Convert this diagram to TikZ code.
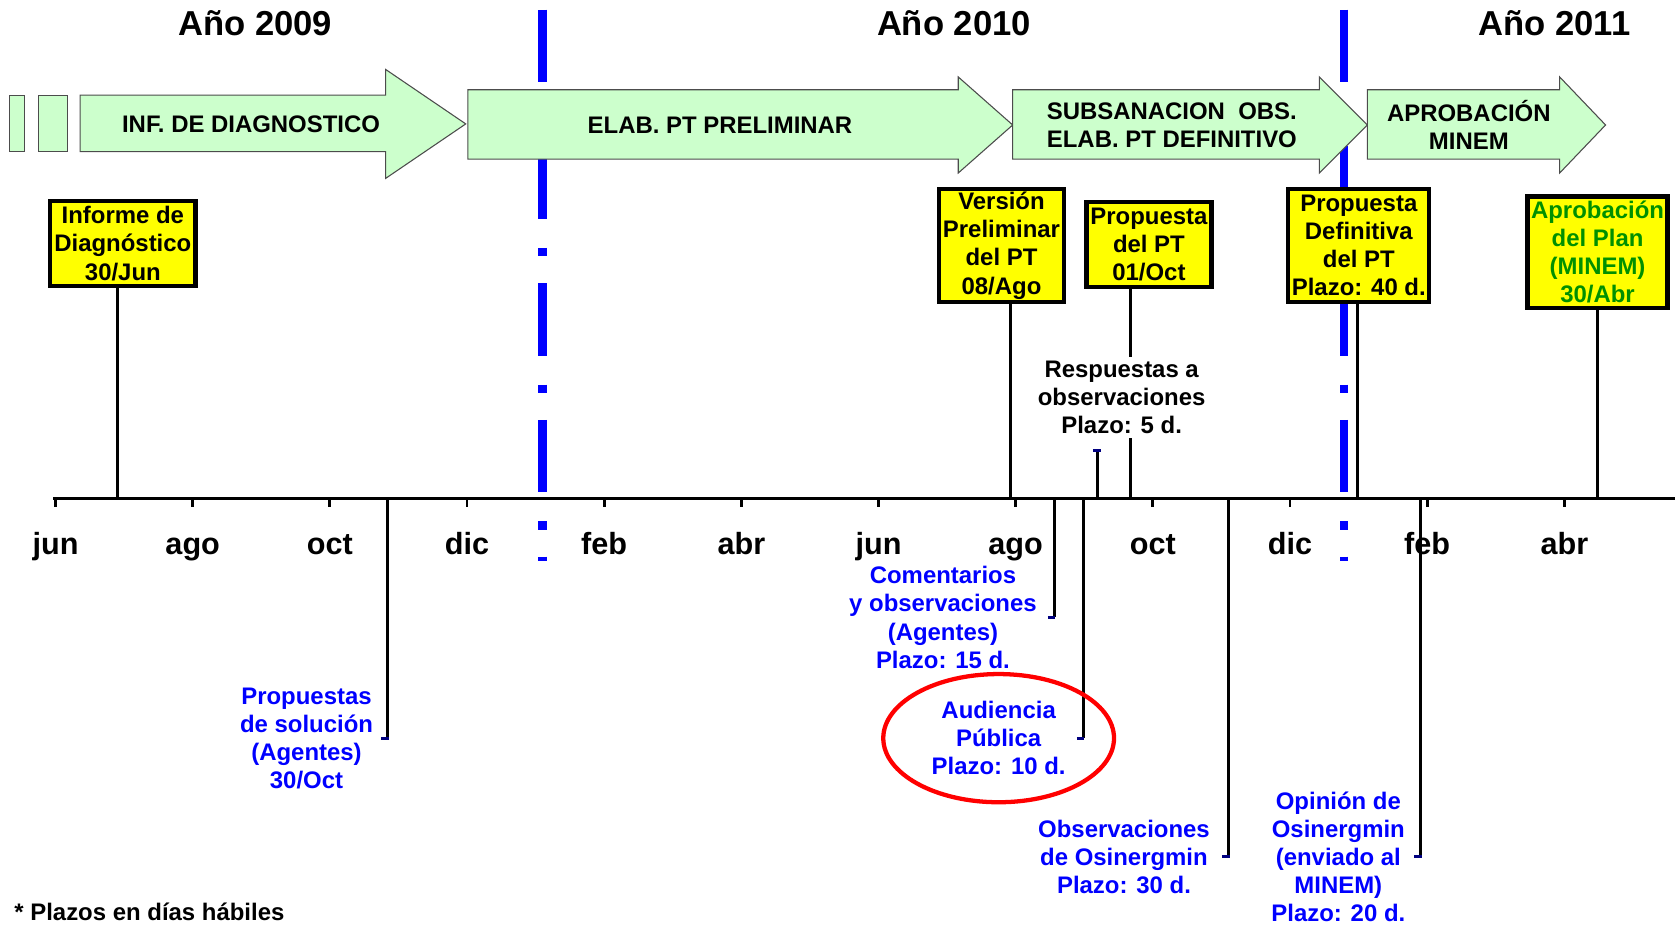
\documentclass[tikz,border=0pt]{standalone}
\usepackage{fontspec}
\setmainfont{Liberation Sans}
\usetikzlibrary{positioning}
\definecolor{faseverde}{HTML}{CCFFCC}
\definecolor{hitoamarillo}{HTML}{FFFF00}
\definecolor{textoverde}{HTML}{009000}
\definecolor{azul}{HTML}{0000FF}
\definecolor{azuloscuro}{HTML}{000080}
\definecolor{rojo}{HTML}{FF0000}
\newcommand{\hitofont}{\bfseries\fontsize{16.8}{19.7}\selectfont}
\newcommand{\mesfont}{\bfseries\fontsize{21.5}{25}\selectfont}
\newcommand{\anofont}{\bfseries\fontsize{24.3}{28}\selectfont}
\tikzset{every picture/.style={line width=0.75pt}}

\begin{document}
\begin{tikzpicture}[x=0.75pt,y=0.75pt,yscale=-1,
	fase/.style={draw=black!70, fill=faseverde, line width=0.75pt},
	fasetxt/.style={font=\hitofont, align=center, inner sep=0pt},
	hito/.style={draw, line width=3pt, fill=hitoamarillo, font=\hitofont, align=center, inner sep=0pt},
	nota/.style={font=\hitofont, align=center, inner sep=0pt, text=azul},
	mes/.style={font=\mesfont, inner sep=0pt, anchor=base},
	corte/.style={draw=azul, line width=6pt, dash pattern=on 51pt off 20.25pt on 6pt off 18.75pt},
	guia/.style={line width=2.1pt},
	tope/.style={draw=azuloscuro, line width=2.2pt}]
	\useasboundingbox (0,0) rectangle (1568,866);
	
	%Years
	\node[font=\anofont, anchor=base] (a2009) at (239,33) {Año 2009};
	\node[font=\anofont, anchor=base] (a2010) at (893,33) {Año 2010};
	\node[font=\anofont, anchor=base] (a2011) at (1455,33) {Año 2011};
	
	%Year change lines
	\draw[corte] (508,9) -- (508,525);
	\draw[corte] (1258,9) -- (1258,525);
	
	%Shape: Phases
	\draw[fase] (9,89) rectangle (23,142);
	\draw[fase] (36,89) rectangle (63,142);
	\draw[fase] (75,89) -- (361,89) -- (361,65) -- (436,116) -- (361,167) -- (361,142) -- (75,142) -- cycle;
	\node[fasetxt] (diag) at (235,116) {INF. DE DIAGNOSTICO};
	\draw[fase] (438,84) -- (897,84) -- (897,72) -- (948,117) -- (897,162) -- (897,149) -- (438,149) -- cycle;
	\node[fasetxt] (prel) at (674,117) {ELAB. PT PRELIMINAR};
	\draw[fase] (948,84) -- (1235,84) -- (1235,72) -- (1280,117) -- (1235,162) -- (1235,149) -- (948,149) -- cycle;
	\node[fasetxt] (subs) at (1097,117) {SUBSANACION\ \ OBS.\\ELAB. PT DEFINITIVO};
	\draw[fase] (1280,84) -- (1460,84) -- (1460,72) -- (1503,117) -- (1460,162) -- (1460,149) -- (1280,149) -- cycle;
	\node[fasetxt] (apro) at (1375,117) {APROBACIÓN\\MINEM};
	
	%Time axis
	\draw[line width=2.25pt] (50,467) -- (1568,467);
	\foreach \x in {52,180.4,308.8,437.2,565.6,694,822.4,950.8,1079.2,1207.6,1336,1464.4}
		\draw[line width=2pt] (\x,467) -- (\x,475);
	\node[mes] (jun09) at (52,519) {jun};
	\node[mes] (ago09) at (180.4,519) {ago};
	\node[mes] (oct09) at (308.8,519) {oct};
	\node[mes] (dic09) at (437.2,519) {dic};
	\node[mes] (feb10) at (565.6,519) {feb};
	\node[mes] (abr10) at (694,519) {abr};
	\node[mes] (jun10) at (822.4,519) {jun};
	\node[mes] (ago10) at (950.8,519) {ago};
	\node[mes] (oct10) at (1079.2,519) {oct};
	\node[mes] (dic10) at (1207.6,519) {dic};
	\node[mes] (feb11) at (1336,519) {feb};
	\node[mes] (abr11) at (1464.4,519) {abr};
	
	%Points on the axis
	\coordinate (pInf) at (110,467);
	\coordinate (pSol) at (363,467);
	\coordinate (fSol) at (363,691);
	\coordinate (pVer) at (946,467);
	\coordinate (pCom) at (987,467);
	\coordinate (fCom) at (987,578);
	\coordinate (pAud) at (1014,467);
	\coordinate (fAud) at (1014,691);
	\coordinate (pRes) at (1027,467);
	\coordinate (fRes) at (1027,422);
	\coordinate (pPro) at (1058,467);
	\coordinate (pObs) at (1150,467);
	\coordinate (fObs) at (1150,802);
	\coordinate (pDef) at (1271,467);
	\coordinate (pOpi) at (1330,467);
	\coordinate (fOpi) at (1330,802);
	\coordinate (pApr) at (1495,467);
	
	%Milestones
	\node[hito, minimum width=102pt, minimum height=60pt] (inf) at (115,228) {Informe de\\Diagnóstico\\30/Jun};
	\node[hito, minimum width=87.75pt, minimum height=79.5pt] (ver) at (937.5,230) {Versión\\Preliminar\\del PT\\08/Ago};
	\node[hito, minimum width=87.75pt, minimum height=60pt] (pro) at (1075.5,229) {Propuesta\\del PT\\01/Oct};
	\node[hito, minimum width=99pt, minimum height=79.5pt] (def) at (1272,230) {Propuesta\\Definitiva\\del PT\\Plazo: 40 d.};
	\node[hito, minimum width=98.25pt, minimum height=78pt, text=textoverde] (apr) at (1495.5,236) {Aprobación\\del Plan\\(MINEM)\\30/Abr};
	
	%Straight Lines
	\draw[guia] (pInf) -- (pInf |- inf.south);
	\draw[guia] (pVer) -- (pVer |- ver.south);
	\draw[guia] (pPro) -- (pPro |- pro.south);
	\draw[guia] (pDef) -- (pDef |- def.south);
	\draw[guia] (pApr) -- (pApr |- apr.south);
	\draw[guia] (pRes) -- (fRes);
	\draw[tope] ([xshift=-3pt]fRes) -- ([xshift=3pt]fRes);
	\draw[guia] (pSol) -- (fSol);
	\draw[tope] ([xshift=-4.5pt]fSol) -- ([xshift=0.75pt]fSol);
	\draw[guia] (pCom) -- (fCom);
	\draw[tope] ([xshift=-4.5pt]fCom) -- ([xshift=0.75pt]fCom);
	\draw[guia] (pAud) -- (fAud);
	\draw[tope] ([xshift=-4.5pt]fAud) -- ([xshift=0.75pt]fAud);
	\draw[guia] (pObs) -- (fObs);
	\draw[tope] ([xshift=-4.5pt]fObs) -- ([xshift=0.75pt]fObs);
	\draw[guia] (pOpi) -- (fOpi);
	\draw[tope] ([xshift=-4.5pt]fOpi) -- ([xshift=0.75pt]fOpi);
	
	%Labels
	\node[font=\hitofont, align=center, fill=white, inner sep=3pt] (resp) at (1050,372) {Respuestas a\\observaciones\\Plazo: 5 d.};
	\node[nota, left=10pt of fSol] (sol) {Propuestas\\de solución\\(Agentes)\\30/Oct};
	\node[nota, left=12pt of fCom] (com) {Comentarios\\y observaciones\\(Agentes)\\Plazo: 15 d.};
	\node[nota, left=12pt of fAud] (aud) {Audiencia\\Pública\\Plazo: 10 d.};
	\draw[rojo, line width=3pt] (aud.center) ellipse [x radius=108, y radius=60];
	\node[nota, left=12.75pt of fObs] (obs) {Observaciones\\de Osinergmin\\Plazo: 30 d.};
	\node[nota, left=10.5pt of fOpi] (opi) {Opinión de\\Osinergmin\\(enviado al\\MINEM)\\Plazo: 20 d.};
	\node[font=\hitofont, anchor=west, inner sep=0pt] (plazos) at (13,854) {* Plazos en días hábiles};
\end{tikzpicture}
\end{document}
